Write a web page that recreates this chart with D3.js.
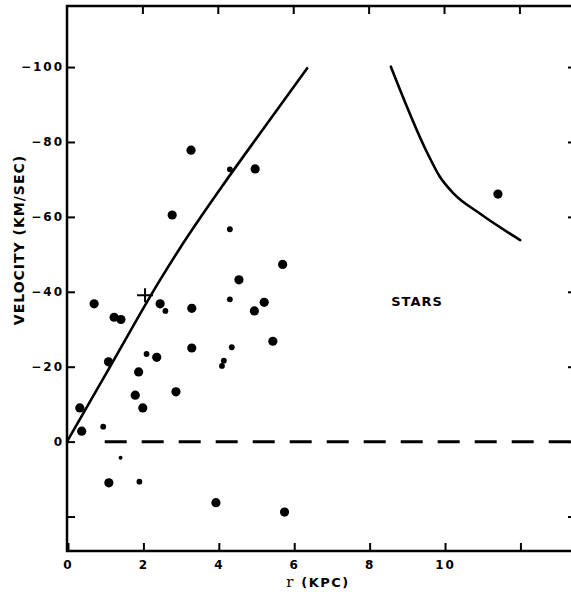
<!DOCTYPE html>
<html>
<head>
<meta charset="utf-8">
<script src="https://cdn.jsdelivr.net/npm/d3@7"></script>
<style>
  html, body { margin: 0; padding: 0; background: #fff; overflow: hidden; }
  svg { display: block; overflow: hidden; }
  .tick text { font-family: "DejaVu Sans", sans-serif; font-weight: bold; font-size: 12px; letter-spacing: 2px; fill: #000; }
</style>
</head>
<body>
<svg id="chart" width="571" height="592"></svg>
<script>
// stars: big dots [r (kpc), velocity (km/s)]
const bigDots = [
  [0.72, -36.8], [1.25, -33.2], [1.43, -32.6], [1.10, -21.3], [0.34, -9.0],
  [0.39, -2.8], [2.47, -36.8], [3.31, -35.6], [3.31, -25.0], [2.38, -22.5],
  [1.90, -18.6], [1.81, -12.4], [2.01, -9.0], [2.89, -13.3], [1.11, 11.0],
  [5.72, -47.3], [4.56, -43.2], [5.23, -37.2], [4.97, -34.9], [5.46, -26.8],
  [3.29, -77.8], [4.99, -72.8], [2.79, -60.5], [3.95, 16.3], [5.77, 18.8],
  [11.43, -66.1]
]
const smallDots = [
  [4.32, -38.0], [4.37, -25.2], [4.16, -21.6], [4.11, -20.2], [4.32, -72.7],
  [4.32, -56.7], [2.61, -34.9], [2.11, -23.4], [1.92, 10.7], [0.96, -4.0]
]
const tinyDots = [[1.42, 4.3]]
const crossMark = [2.07, -39.1]

// drawn curves
const innerR = [0, 1.09, 2.47, 3.0, 4.11, 5.20, 6.37]
const innerV = [0, -19.1, -43.2, -51.7, -68.1, -83.4, -99.7]
const outerR = [8.59, 9.56, 9.89, 10.25, 10.95, 12.02]
const outerV = [-100.1, -77.0, -70.7, -66.3, -60.9, -53.8]

const xTicks = [0, 2, 4, 6, 8, 10, 12]
const xLabels = ['0', '2', '4', '6', '8', '10', '']
const yTicks = [-100, -80, -60, -40, -20, 0, 20]
const yLabels = ['\u2212100', '\u221280', '\u221260', '\u221240', '\u221220', '0', '']

const svg = d3.select('#chart')
const W = 571
const frame = { left: 67, right: 579, top: 6, bottom: 551 }

const x = d3.scaleLinear().domain([0, 13.58]).range([frame.left, frame.right])
const y = d3.scaleLinear().domain([29.2, -116.3]).range([frame.bottom, frame.top])

// Axes (ticks point inward)
svg.append('g')
  .attr('transform', `translate(1,${frame.bottom})`)
  .call(d3.axisBottom(x).tickValues(xTicks).tickSize(-8).tickPadding(9)
    .tickFormat((d, i) => xLabels[i]))
svg.append('g')
  .attr('transform', `translate(0,${frame.top})`)
  .call(d3.axisTop(x).tickValues(xTicks.slice(1)).tickSize(-8).tickFormat(''))
svg.append('g')
  .attr('transform', `translate(${frame.left},0)`)
  .call(d3.axisLeft(y).tickValues(yTicks).tickSize(-8).tickPadding(3)
    .tickFormat((d, i) => yLabels[i]))
svg.append('g')
  .attr('transform', `translate(${frame.right},0)`)
  .call(d3.axisRight(y).tickValues(yTicks).tickSize(-11).tickFormat(''))

svg.selectAll('.domain').remove()
svg.selectAll('.tick line').attr('stroke', '#000').attr('stroke-width', 2)

// Frame: right side lies beyond the picture edge
svg.append('path')
  .attr('d', `M${W},${frame.top}H${frame.left}V${frame.bottom}H${W}`)
  .attr('fill', 'none')
  .attr('stroke', '#000')
  .attr('stroke-width', 2.5)

// Zero line (dashed)
svg.append('line')
  .attr('x1', x(1.0)).attr('x2', W)
  .attr('y1', y(0)).attr('y2', y(0))
  .attr('stroke', '#000')
  .attr('stroke-width', 3)
  .attr('stroke-dasharray', '22,15')

// Curves
let line = d3.line()
  .x(d => x(d[0]))
  .y(d => y(d[1]))
  .curve(d3.curveMonotoneX)

svg.append('path')
  .attr('d', line(d3.zip(innerR, innerV)))
  .attr('fill', 'none')
  .attr('stroke', '#000')
  .attr('stroke-width', 2.6)
  .attr('stroke-linecap', 'round')

svg.append('path')
  .attr('d', line(d3.zip(outerR, outerV)))
  .attr('fill', 'none')
  .attr('stroke', '#000')
  .attr('stroke-width', 2.6)
  .attr('stroke-linecap', 'round')

// Dots
;[[bigDots, 4.6], [smallDots, 2.9], [tinyDots, 2]].forEach(([data, r]) => {
  svg.append('g')
    .selectAll('circle')
    .data(data)
    .enter()
    .append('circle')
    .attr('cx', d => x(d[0]))
    .attr('cy', d => y(d[1]))
    .attr('r', r)
    .attr('fill', '#000')
})

// Cross
let cx = x(crossMark[0]), cy = y(crossMark[1])
svg.append('path')
  .attr('d', `M${cx - 8},${cy}H${cx + 8}M${cx},${cy - 7}V${cy + 7}`)
  .attr('stroke', '#000')
  .attr('stroke-width', 2)

// Labels
svg.append('text')
  .attr('x', 417).attr('y', 306)
  .attr('text-anchor', 'middle')
  .style('font-family', '"DejaVu Sans", sans-serif')
  .style('font-weight', 'bold')
  .style('font-size', '13px')
  .style('letter-spacing', '1px')
  .text('STARS')

svg.append('text')
  .attr('transform', 'translate(24,240) rotate(-90)')
  .attr('text-anchor', 'middle')
  .style('font-family', '"DejaVu Sans", sans-serif')
  .style('font-weight', 'bold')
  .style('font-size', '14px')
  .style('letter-spacing', '1px')
  .text('VELOCITY (KM/SEC)')

let xl = svg.append('text')
  .attr('x', 318).attr('y', 587)
  .attr('text-anchor', 'middle')
  .style('font-family', '"DejaVu Sans", sans-serif')
  .style('font-weight', 'bold')
  .style('font-size', '13px')
  .style('letter-spacing', '1.5px')
xl.append('tspan')
  .style('font-family', '"DejaVu Serif", serif')
  .style('font-weight', 'normal')
  .style('font-size', '15px')
  .text('r ')
xl.append('tspan').text('(KPC)')
</script>
</body>
</html>
